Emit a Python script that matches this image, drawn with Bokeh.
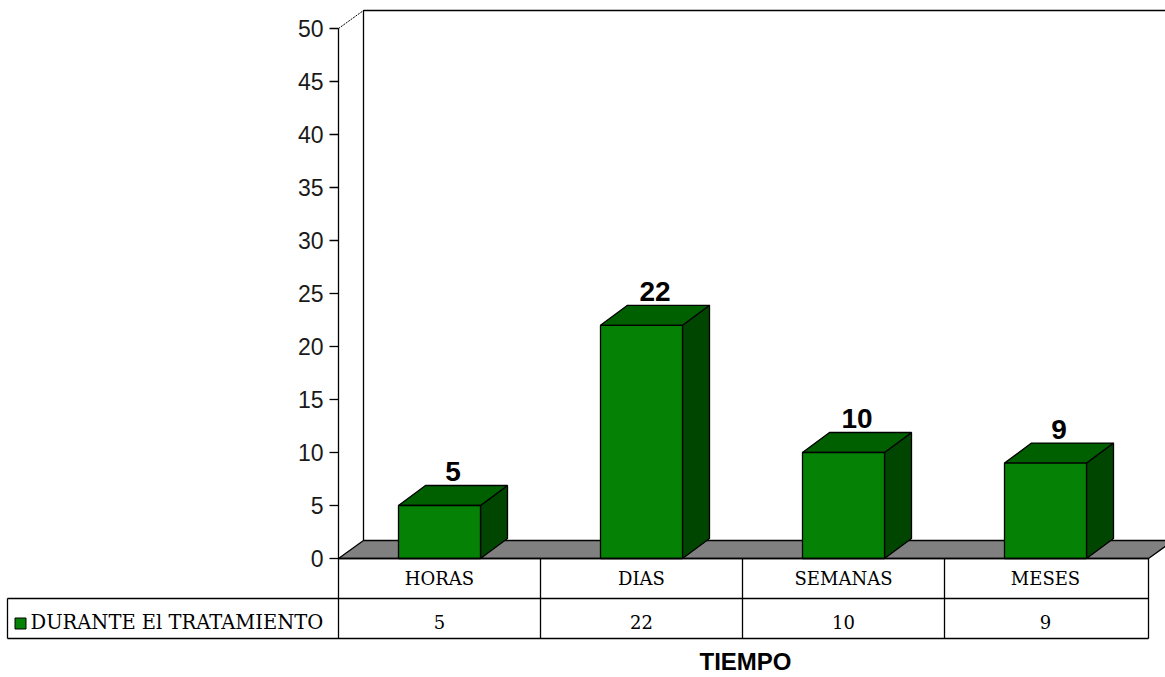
from bokeh.plotting import figure
from bokeh.models import Range1d, ColumnDataSource
from bokeh.embed import file_html
from bokeh.resources import INLINE
from bokeh.core.properties import value

# ---- data ----
categories = ["HORAS", "DIAS", "SEMANAS", "MESES"]
values = [5, 22, 10, 9]
series_name = "DURANTE El TRATAMIENTO"
y_ticks = [0, 5, 10, 15, 20, 25, 30, 35, 40, 45, 50]
x_title = "TIEMPO"

# ---- layout (pixels) ----
W, H = 1165, 677
PX_X = 202.0          # pixels per category
PX_Y = 10.6           # pixels per value unit
X0C, Y0C = 338, 558   # canvas position of the origin

def hx(n):
    return n / PX_X

def vy(n):
    return n / PX_Y

xs0 = -X0C / PX_X
xe0 = xs0 + W / PX_X
yt0 = Y0C / PX_Y
yb0 = -(H - Y0C) / PX_Y

p = figure(width=W, height=H, x_range=Range1d(xs0, xe0), y_range=Range1d(yb0, yt0),
           output_backend="svg", toolbar_location=None,
           x_axis_type=None, y_axis_type=None, min_border=0,
           outline_line_color=None, background_fill_color="white")

n = len(categories)
ymax = y_ticks[-1]
right_edge = n + hx(2)
dxf, dyf = hx(25), vy(18)     # floor/wall depth
dxb, dyb = hx(27), vy(20)     # bar depth
bw = hx(82)                   # bar front width
LW = 1.3

# back wall and side wall
p.line(x=[dxf, dxf, xe0 + 1], y=[dyf, ymax + dyf, ymax + dyf], line_color="black", line_width=LW)
p.line(x=[0, dxf], y=[ymax, ymax + dyf], line_color="black", line_width=1, line_dash="2 1")

# floor
p.patch(x=[0, right_edge, right_edge + dxf, dxf], y=[0, 0, dyf, dyf],
        fill_color="#808080", line_color="black", line_width=LW)

# bars
lefts = [i + 0.5 - bw / 2 for i in range(n)]
rights = [i + 0.5 + bw / 2 for i in range(n)]
side_xs = [[r, r + dxb, r + dxb, r] for r in rights]
side_ys = [[0, dyb, v + dyb, v] for v in values]
top_xs = [[l, r, r + dxb, l + dxb] for l, r in zip(lefts, rights)]
top_ys = [[v, v, v + dyb, v + dyb] for v in values]
p.patches(xs=side_xs, ys=side_ys, fill_color="#004600", line_color="black", line_width=LW)
p.patches(xs=top_xs, ys=top_ys, fill_color="#006000", line_color="black", line_width=LW)
p.quad(left=lefts, right=rights, bottom=0, top=values, fill_color="#058205",
       line_color="black", line_width=LW)

# value labels
lab = ColumnDataSource(dict(x=[i + 0.5 + dxb / 2 for i in range(n)],
                            y=[v + dyb for v in values],
                            t=[str(v) for v in values]))
p.text(x="x", y="y", text="t", source=lab, text_font=value("Liberation Sans"),
       text_font_style="bold", text_font_size="28px", text_align="center",
       text_baseline="middle", y_offset=-14, text_color="black")

# y axis
p.segment(x0=0, y0=0, x1=0, y1=ymax, line_color="black", line_width=LW)
p.segment(x0=[-hx(9)] * len(y_ticks), y0=y_ticks, x1=[0] * len(y_ticks), y1=y_ticks,
          line_color="black", line_width=LW)
p.text(x=[0] * len(y_ticks), y=y_ticks, text=[str(t) for t in y_ticks],
       text_font=value("Liberation Sans"), text_font_size="23px", text_color="#1a1a1a",
       text_align="right", text_baseline="middle", x_offset=-15)

# data table
row1, row2 = -vy(40), -vy(80)
left_border = hx(7 - 338)
p.segment(x0=[0, left_border, left_border], y0=[0, row1, row2],
          x1=[right_edge, right_edge, right_edge], y1=[0, row1, row2],
          line_color="black", line_width=LW)
vx = list(range(n)) + [right_edge]
p.segment(x0=vx, y0=[0] * len(vx), x1=vx, y1=[row2] * len(vx), line_color="black", line_width=LW)
p.segment(x0=[left_border], y0=[row1], x1=[left_border], y1=[row2], line_color="black", line_width=LW)

p.text(x=[i + 0.5 for i in range(n)], y=[-vy(20)] * n, text=categories,
       text_font=value("DejaVu Serif"), text_font_size="18px", text_align="center",
       text_baseline="middle", text_color="black")
p.text(x=[i + 0.5 for i in range(n)], y=[-vy(63)] * n, text=[str(v) for v in values],
       text_font=value("DejaVu Serif"), text_font_size="18px", text_align="center",
       text_baseline="middle", text_color="black")

# legend key + series name
p.scatter(x=[hx(20 - 338)], y=[-vy(65)], marker="square", size=11,
          fill_color="#058205", line_color="black", line_width=1)
p.text(x=[hx(30 - 338)], y=[-vy(64)], text=[series_name], text_font=value("DejaVu Serif"),
       text_font_size="19.5px", text_align="left", text_baseline="middle", text_color="black")

# category axis title
p.text(x=[hx(745 - 338)], y=[-vy(103)], text=[x_title], text_font=value("Liberation Sans"),
       text_font_style="bold", text_font_size="24px", text_align="center",
       text_baseline="middle", text_color="black")

open("out.html", "w").write(file_html(p, INLINE))
